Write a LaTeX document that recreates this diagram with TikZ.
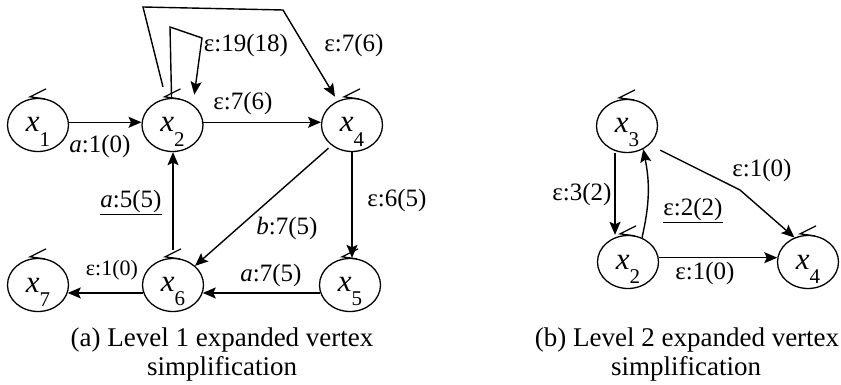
\documentclass[tikz,border=0pt]{standalone}
\usepackage{fontspec}
\setmainfont{Liberation Serif}
\usetikzlibrary{arrows.meta,shapes.geometric,calc}
\newcommand\vx[1]{\rule{0pt}{28pt}{\fontsize{31}{31}\selectfont\itshape x}\raisebox{-14pt}{\fontsize{21}{21}\selectfont #1}}
\begin{document}
\begin{tikzpicture}[x=1pt,y=-1pt,
  vert/.style={ellipse,draw,line width=1.3pt,minimum width=61pt,minimum height=53pt,inner sep=0pt},
  vtext/.style={inner sep=0pt},
  edge/.style={line width=1.4pt,-{Stealth[length=13pt,width=11pt,inset=2.5pt]}},
  selfmk/.style={line width=1.2pt},
  lab/.style={font=\fontsize{25}{25}\selectfont,inner sep=0pt},
  captext/.style={font=\fontsize{27}{27}\selectfont,inner sep=0pt,anchor=base}]
\useasboundingbox (0,0) rectangle (841,385);
% ---------- (a) ----------
\node[vert] (x1) at (38,125) {};
\node[vert] (x2) at (172.5,125) {};
\node[vert] (x4) at (352,125) {};
\node[vert] (x7) at (38,285) {};
\node[vert] (x6) at (173,285) {};
\node[vert] (x5) at (350,285) {};
% ---------- (b) ----------
\node[vert] (y3) at (627,126) {};
\node[vert] (y2) at (628,262) {};
\node[vert] (y4) at (808,262) {};
% vertex texts
\node[vtext] (t1) at (x1) {\vx{1}};
\node[vtext] (t2) at (x2) {\vx{2}};
\node[vtext] (t4) at (x4) {\vx{4}};
\node[vtext] (t7) at (x7) {\vx{7}};
\node[vtext] (t6) at (x6) {\vx{6}};
\node[vtext] (t5) at (x5) {\vx{5}};
\node[vtext] (u3) at (y3) {\vx{3}};
\node[vtext] (u2) at (y2) {\vx{2}};
\node[vtext] (u4) at (y4) {\vx{4}};
% self-loop marks
\foreach \n in {x1,x2,x4,x7,x6,x5,y3,y2,y4}{
  \draw[selfmk] ([shift={(8,-9)}]\n.north) -- ([shift={(-8,-1)}]\n.north) -- ([shift={(7,1)}]\n.north);
}
% edges (a)
\draw[edge] (x1.5) -- (x2.175);
\draw[edge] (x2.5) -- (x4.175);
\coordinate (s1) at (170,27);
\coordinate (s2) at (202,38);
\draw[edge,shorten >=10pt] (x2.92) -- (s1) -- (s2) -- (x2.45);
\coordinate (b1) at (143,7);
\coordinate (b2) at (283,10);
\draw[edge,shorten <=12pt,shorten >=5pt] (x2.104) -- (b1) -- (b2) -- (x4.121);
\draw[edge,shorten <=8pt] (x6.north) -- (x6.north |- x2.south);
\draw[edge,shorten <=4pt] (x4.225) -- (x6.41);
\draw[edge] (x4.south) -- (x4.south |- x5.north);
\draw[edge] (x5.195) -- (x6.345);
\draw[edge] (x6.195) -- (x7.345);
% edges (b)
\draw[edge] ([xshift=-12pt]y3.south) -- ([xshift=-12pt]y3.south |- y2.north);
\draw[edge] (y2.60) to[bend right=12] (y3.305);
\coordinate (c1) at (740,190);
\draw[edge,shorten <=12pt] (y3.320) -- (c1) -- (y4.119);
\draw[edge] (y2.8) -- (y4.172);
% labels (a)
\node[lab] (l1) at (100,146) {\textit{a}:1(0)};
\node[lab] (l2) at (243,103) {ε:7(6)};
\node[lab] (l3) at (246,45) {ε:19(18)};
\node[lab] (l4) at (354,45) {ε:7(6)};
\node[lab] (l5) at (131,202) {\underline{\textit{a}:5(5)}};
\node[lab] (l6) at (287,228) {\textit{b}:7(5)};
\node[lab] (l7) at (397,200) {ε:6(5)};
\node[lab] (l8) at (271,275) {\textit{a}:7(5)};
\node[lab,font=\fontsize{22}{22}\selectfont] (l9) at (112,270) {ε:1(0)};
% labels (b)
\node[lab] (m1) at (582,194) {ε:3(2)};
\node[lab] (m2) at (693,210) {\underline{ε:2(2)}};
\node[lab] (m3) at (762,170) {ε:1(0)};
\node[lab] (m4) at (705,273) {ε:1(0)};
% captions
\node[captext] (ca1) at (222,346) {(a) Level 1 expanded vertex};
\node[captext] (ca2) at (222,375) {simplification};
\node[captext] (cb1) at (687,346) {(b) Level 2 expanded vertex};
\node[captext] (cb2) at (686,375) {simplification};
\end{tikzpicture}
\end{document}
